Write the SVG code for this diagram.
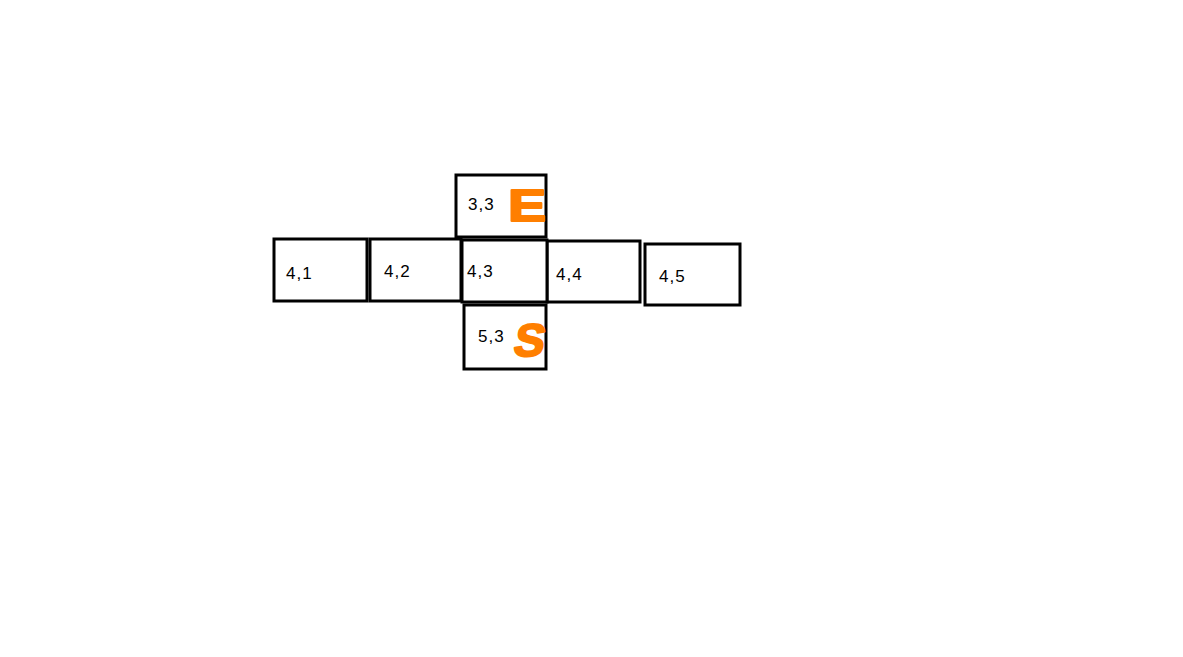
<svg xmlns="http://www.w3.org/2000/svg" width="1183" height="657" viewBox="0 0 1183 657">
<style>
.box{fill:#fff;stroke:#000;stroke-width:3}
.lbl{font-family:"Liberation Sans",Arial,sans-serif;font-size:17px;letter-spacing:1px;fill:#000}
.hand{font-family:"Liberation Sans",Arial,sans-serif;font-weight:bold;fill:#ff7f00;stroke:#ff7f00;stroke-width:2;stroke-linejoin:round}
</style>
<rect width="1183" height="657" fill="#fff"/>
<g id="n41"><rect class="box" x="274" y="239" width="93" height="62"/><text class="lbl" x="286" y="279">4,1</text></g>
<g id="n42"><rect class="box" x="370" y="239" width="91" height="62"/><text class="lbl" x="384" y="277">4,2</text></g>
<g id="n44"><rect class="box" x="547" y="241" width="93" height="61"/><text class="lbl" x="556" y="280">4,4</text></g>
<g id="n45"><rect class="box" x="645" y="244" width="95" height="61"/><text class="lbl" x="659" y="282">4,5</text></g>
<g id="n33"><rect class="box" x="456" y="175" width="90" height="62"/><text class="lbl" x="468" y="210">3,3</text>
<text class="hand" transform="translate(508 221) scale(1.3 1)" font-size="44">E</text></g>
<g id="n53"><rect class="box" x="464" y="305" width="82" height="64"/><text class="lbl" x="478" y="342">5,3</text>
<text class="hand" transform="translate(512 356) skewX(-10)" font-size="46">S</text></g>
<g id="n43"><rect class="box" x="462" y="240" width="85" height="62"/><text class="lbl" x="467" y="277">4,3</text></g>
<g id="connectors"></g>
</svg>
